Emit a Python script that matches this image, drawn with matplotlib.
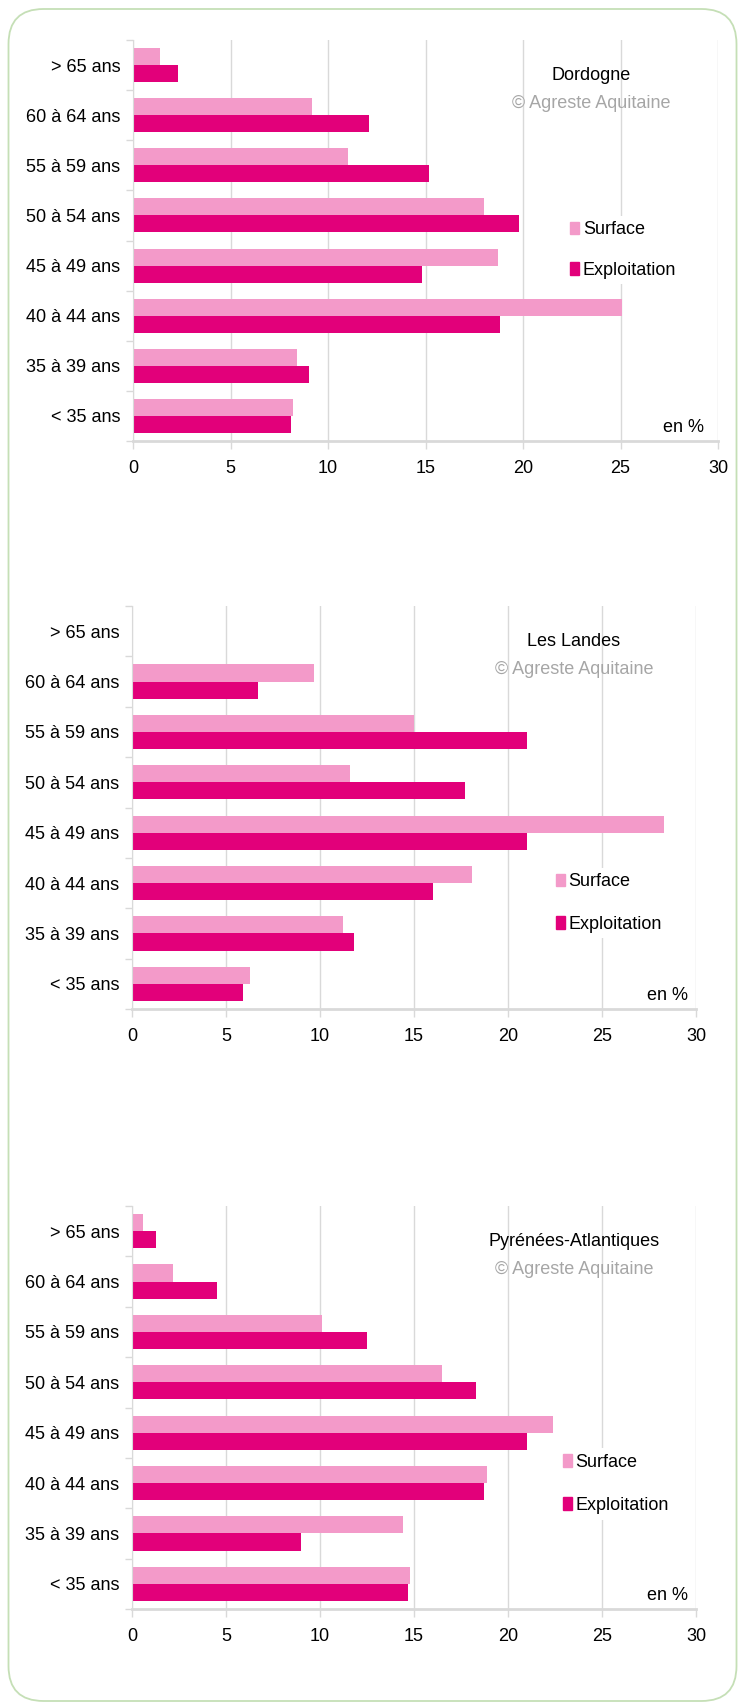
import matplotlib
matplotlib.use("Agg")
import matplotlib.pyplot as plt
from matplotlib import font_manager
from matplotlib.patches import FancyBboxPatch, Patch
from matplotlib.ticker import MultipleLocator, FixedLocator
import numpy as np

# age classes, bottom to top
categories = ['< 35 ans', '35 à 39 ans', '40 à 44 ans', '45 à 49 ans',
              '50 à 54 ans', '55 à 59 ans', '60 à 64 ans', '> 65 ans']

dordogne_surface = [8.2, 8.4, 25.1, 18.7, 18.0, 11.0, 9.2, 1.4]
dordogne_exploit = [8.1, 9.0, 18.8, 14.8, 19.8, 15.2, 12.1, 2.3]
landes_surface = [6.3, 11.2, 18.1, 28.3, 11.6, 15.0, 9.7, 0.0]
landes_exploit = [5.9, 11.8, 16.0, 21.0, 17.7, 21.0, 6.7, 0.0]
pa_surface = [14.8, 14.4, 18.9, 22.4, 16.5, 10.1, 2.2, 0.6]
pa_exploit = [14.7, 9.0, 18.7, 21.0, 18.3, 12.5, 4.5, 1.3]

names = {f.name for f in font_manager.fontManager.ttflist}
fam = 'Liberation Sans Narrow' if 'Liberation Sans Narrow' in names else 'Liberation Sans'
fs = 14 if fam == 'Liberation Sans Narrow' else 13
plt.rcParams['font.family'] = [fam, 'DejaVu Sans']
plt.rcParams['font.size'] = fs

PINK = '#f39ac9'
MAGENTA = '#e2007a'
GRID = '#d9d9d9'

W, H = 738, 1702
fig = plt.figure(figsize=(W / 100, H / 100), dpi=100)

# rounded green frame
bg = fig.add_axes([0, 0, 1, 1], zorder=-1)
bg.set_xlim(0, W)
bg.set_ylim(H, 0)
bg.axis('off')
bg.add_patch(FancyBboxPatch((8.5, 9), 728, 1692, boxstyle='round,pad=0,rounding_size=35',
                            fc='white', ec='#c5dfb6', lw=1.3))


def panel(box, surface, exploit, title, leg_y, leg_x, leg_gap, en_x):
    left, right, top, bottom = box
    ax = fig.add_axes([left / W, 1 - bottom / H, (right - left) / W, (bottom - top) / H])
    y = np.arange(len(categories))
    h = 0.34
    ax.barh(y + h / 2, surface, height=h, color=PINK, label='Surface', zorder=2)
    ax.barh(y - h / 2, exploit, height=h, color=MAGENTA, label='Exploitation', zorder=2)
    ax.set_xlim(0, 30)
    ax.set_ylim(-0.5, len(categories) - 0.5)
    ax.set_yticks(y)
    ax.set_yticklabels(categories)
    ax.yaxis.set_minor_locator(FixedLocator(np.arange(-0.5, len(categories), 1)))
    ax.tick_params(axis='y', which='major', length=0, pad=9, labelcolor='black')
    ax.tick_params(axis='y', which='minor', length=5, color=GRID, width=1)
    ax.xaxis.set_major_locator(MultipleLocator(5))
    ax.tick_params(axis='x', length=6, color=GRID, width=1, pad=8, labelcolor='black')
    ax.grid(axis='x', color=GRID, lw=1, zorder=0)
    for s in ['top', 'right']:
        ax.spines[s].set_visible(False)
    ax.spines['left'].set_color(GRID)
    ax.spines['bottom'].set_color(GRID)
    ax.spines['bottom'].set_linewidth(2)
    ph = bottom - top
    ax.text(23.5, 1 - 35 / ph, title, transform=ax.get_xaxis_transform(),
            ha='center', va='center', color='black', zorder=3)
    ax.text(23.5, 1 - 63 / ph, '© Agreste Aquitaine', transform=ax.get_xaxis_transform(),
            ha='center', va='center', color='#a6a6a6', zorder=3)
    ax.text(en_x, 14 / ph, 'en %', transform=ax.get_xaxis_transform(),
            ha='right', va='center', color='black', zorder=3)
    handles = [Patch(color=PINK, label='Surface'), Patch(color=MAGENTA, label='Exploitation')]
    leg = ax.legend(handles=handles, loc='center left',
                    bbox_to_anchor=(leg_x / 30 - 0.012, 1 - leg_y / ph),
                    frameon=True, fancybox=False, edgecolor='none', facecolor='white',
                    framealpha=1, borderpad=0.3, borderaxespad=0, handlelength=0.5,
                    handleheight=0.7, handletextpad=0.2, labelspacing=leg_gap)
    leg.set_zorder(4)
    return ax


panel((133, 718, 40, 441), dordogne_surface, dordogne_exploit, 'Dordogne', 210, 22.5, 1.3, 29.3)
panel((132, 696, 606, 1009), landes_surface, landes_exploit, 'Les Landes', 297, 22.6, 1.4, 29.6)
panel((132, 696, 1206, 1609), pa_surface, pa_exploit, 'Pyrénées-Atlantiques', 278, 23.0, 1.45, 29.6)

fig.savefig('out.png', dpi=100)
